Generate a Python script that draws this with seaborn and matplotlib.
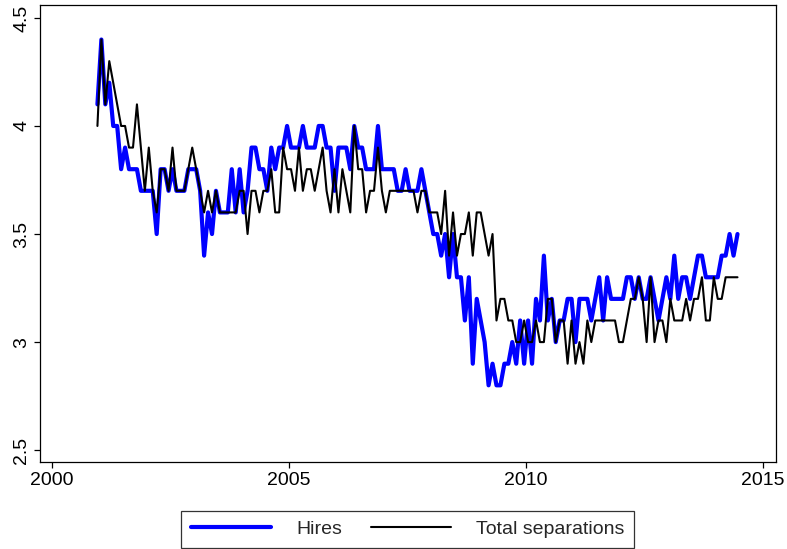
import matplotlib
matplotlib.use("Agg")
import matplotlib.pyplot as plt
import seaborn as sns
import pandas as pd
import numpy as np
from matplotlib.ticker import FuncFormatter
from matplotlib.lines import Line2D

# Monthly data, Dec 2000 - Jun 2014
start_month = "2000-12"
n_months = 163

hires = [
    4.1, 4.4, 4.1, 4.2, 4.0, 4.0, 3.8, 3.9, 3.8, 3.8, 3.8, 3.7, 3.7, 3.7, 3.7, 3.5,
    3.8, 3.8, 3.7, 3.8, 3.7, 3.7, 3.7, 3.8, 3.8, 3.8, 3.7, 3.4, 3.6, 3.5, 3.7, 3.6,
    3.6, 3.6, 3.8, 3.6, 3.8, 3.6, 3.7, 3.9, 3.9, 3.8, 3.8, 3.7, 3.9, 3.8, 3.9, 3.9,
    4.0, 3.9, 3.9, 3.9, 4.0, 3.9, 3.9, 3.9, 4.0, 4.0, 3.9, 3.9, 3.7, 3.9, 3.9, 3.9,
    3.8, 4.0, 3.9, 3.9, 3.8, 3.8, 3.8, 4.0, 3.8, 3.8, 3.8, 3.8, 3.7, 3.7, 3.8, 3.7,
    3.7, 3.7, 3.8, 3.7, 3.6, 3.5, 3.5, 3.4, 3.5, 3.3, 3.5, 3.3, 3.3, 3.1, 3.3, 2.9,
    3.2, 3.1, 3.0, 2.8, 2.9, 2.8, 2.8, 2.9, 2.9, 3.0, 2.9, 3.1, 2.9, 3.1, 2.9, 3.2,
    3.1, 3.4, 3.1, 3.2, 3.0, 3.1, 3.1, 3.2, 3.2, 3.0, 3.2, 3.2, 3.2, 3.1, 3.2, 3.3,
    3.1, 3.3, 3.2, 3.2, 3.2, 3.2, 3.3, 3.3, 3.2, 3.3, 3.2, 3.2, 3.3, 3.2, 3.1, 3.2,
    3.3, 3.2, 3.4, 3.2, 3.3, 3.3, 3.2, 3.3, 3.4, 3.4, 3.3, 3.3, 3.3, 3.3, 3.4, 3.4,
    3.5, 3.4, 3.5,
]

separations = [
    4.0, 4.4, 4.1, 4.3, 4.2, 4.1, 4.0, 4.0, 3.9, 3.9, 4.1, 3.9, 3.7, 3.9, 3.7, 3.6,
    3.8, 3.8, 3.7, 3.9, 3.7, 3.7, 3.7, 3.8, 3.9, 3.8, 3.7, 3.6, 3.7, 3.6, 3.7, 3.6,
    3.6, 3.6, 3.6, 3.6, 3.7, 3.7, 3.5, 3.7, 3.7, 3.6, 3.7, 3.7, 3.8, 3.6, 3.6, 3.9,
    3.8, 3.8, 3.7, 3.9, 3.7, 3.8, 3.8, 3.7, 3.8, 3.9, 3.7, 3.6, 3.8, 3.6, 3.8, 3.7,
    3.6, 4.0, 3.8, 3.8, 3.6, 3.7, 3.7, 3.9, 3.7, 3.6, 3.7, 3.7, 3.7, 3.7, 3.7, 3.7,
    3.7, 3.6, 3.7, 3.7, 3.6, 3.6, 3.6, 3.5, 3.7, 3.4, 3.6, 3.4, 3.5, 3.5, 3.6, 3.4,
    3.6, 3.6, 3.5, 3.4, 3.5, 3.1, 3.2, 3.2, 3.1, 3.1, 3.0, 3.0, 3.1, 3.0, 3.0, 3.1,
    3.0, 3.0, 3.2, 3.2, 3.0, 3.1, 3.1, 2.9, 3.1, 2.9, 3.0, 2.9, 3.1, 3.0, 3.1, 3.1,
    3.1, 3.1, 3.1, 3.1, 3.0, 3.0, 3.1, 3.2, 3.2, 3.3, 3.2, 3.0, 3.3, 3.0, 3.1, 3.1,
    3.0, 3.2, 3.1, 3.1, 3.1, 3.2, 3.1, 3.2, 3.2, 3.3, 3.1, 3.1, 3.3, 3.2, 3.2, 3.3,
    3.3, 3.3, 3.3,
]

series_names = ["Hires", "Total separations"]
x_ticks = [2000, 2005, 2010, 2015]
y_ticks = [2.5, 3, 3.5, 4, 4.5]

dates = pd.date_range(start_month, periods=n_months, freq="MS")
t = dates.year + (dates.month - 0.5) / 12.0

df = pd.DataFrame({
    "time": np.concatenate([t, t]),
    "value": hires + separations,
    "series": [series_names[0]] * n_months + [series_names[1]] * n_months,
})

sns.set_theme(style="white")
plt.rcParams["font.family"] = ["Liberation Sans", "DejaVu Sans"]

fig = plt.figure(figsize=(7.87, 5.49), dpi=100)
ax = fig.add_axes([0.051, 0.158, 0.935, 0.833])

sns.lineplot(
    data=df, x="time", y="value", hue="series", size="series",
    hue_order=series_names, size_order=series_names,
    palette={series_names[0]: "#0000ff", series_names[1]: "#000000"},
    sizes={series_names[0]: 3.0, series_names[1]: 1.5},
    ax=ax, legend=False,
)

ax.set_xlim(1999.75, 2015.27)
ax.set_ylim(2.444, 4.56)
ax.set_xticks(x_ticks)
ax.set_yticks(y_ticks)
ax.yaxis.set_major_formatter(FuncFormatter(lambda v, p: f"{v:g}"))
ax.set_xlabel("")
ax.set_ylabel("")
for s in ax.spines.values():
    s.set_visible(True)
    s.set_color("black")
    s.set_linewidth(0.9)
ax.tick_params(axis="both", which="major", direction="out", length=4,
               width=0.9, color="black", labelsize=14, labelcolor="black",
               bottom=True, left=True, top=False, right=False, pad=3)
for lab in ax.get_yticklabels():
    lab.set_rotation(90)
    lab.set_va("center")

handles = [Line2D([], [], color="#0000ff", lw=3.0),
           Line2D([], [], color="#000000", lw=1.5)]
leg = fig.legend(handles, series_names, loc="lower center",
                 bbox_to_anchor=(0.518, 0.002), ncol=2, frameon=True,
                 fancybox=False, edgecolor="black", fontsize=14,
                 handlelength=4.1, columnspacing=1.5, handletextpad=1.3,
                 borderpad=0.5, borderaxespad=0.0)
leg.get_frame().set_linewidth(0.9)

fig.savefig("out.png", dpi=100, facecolor="white")
